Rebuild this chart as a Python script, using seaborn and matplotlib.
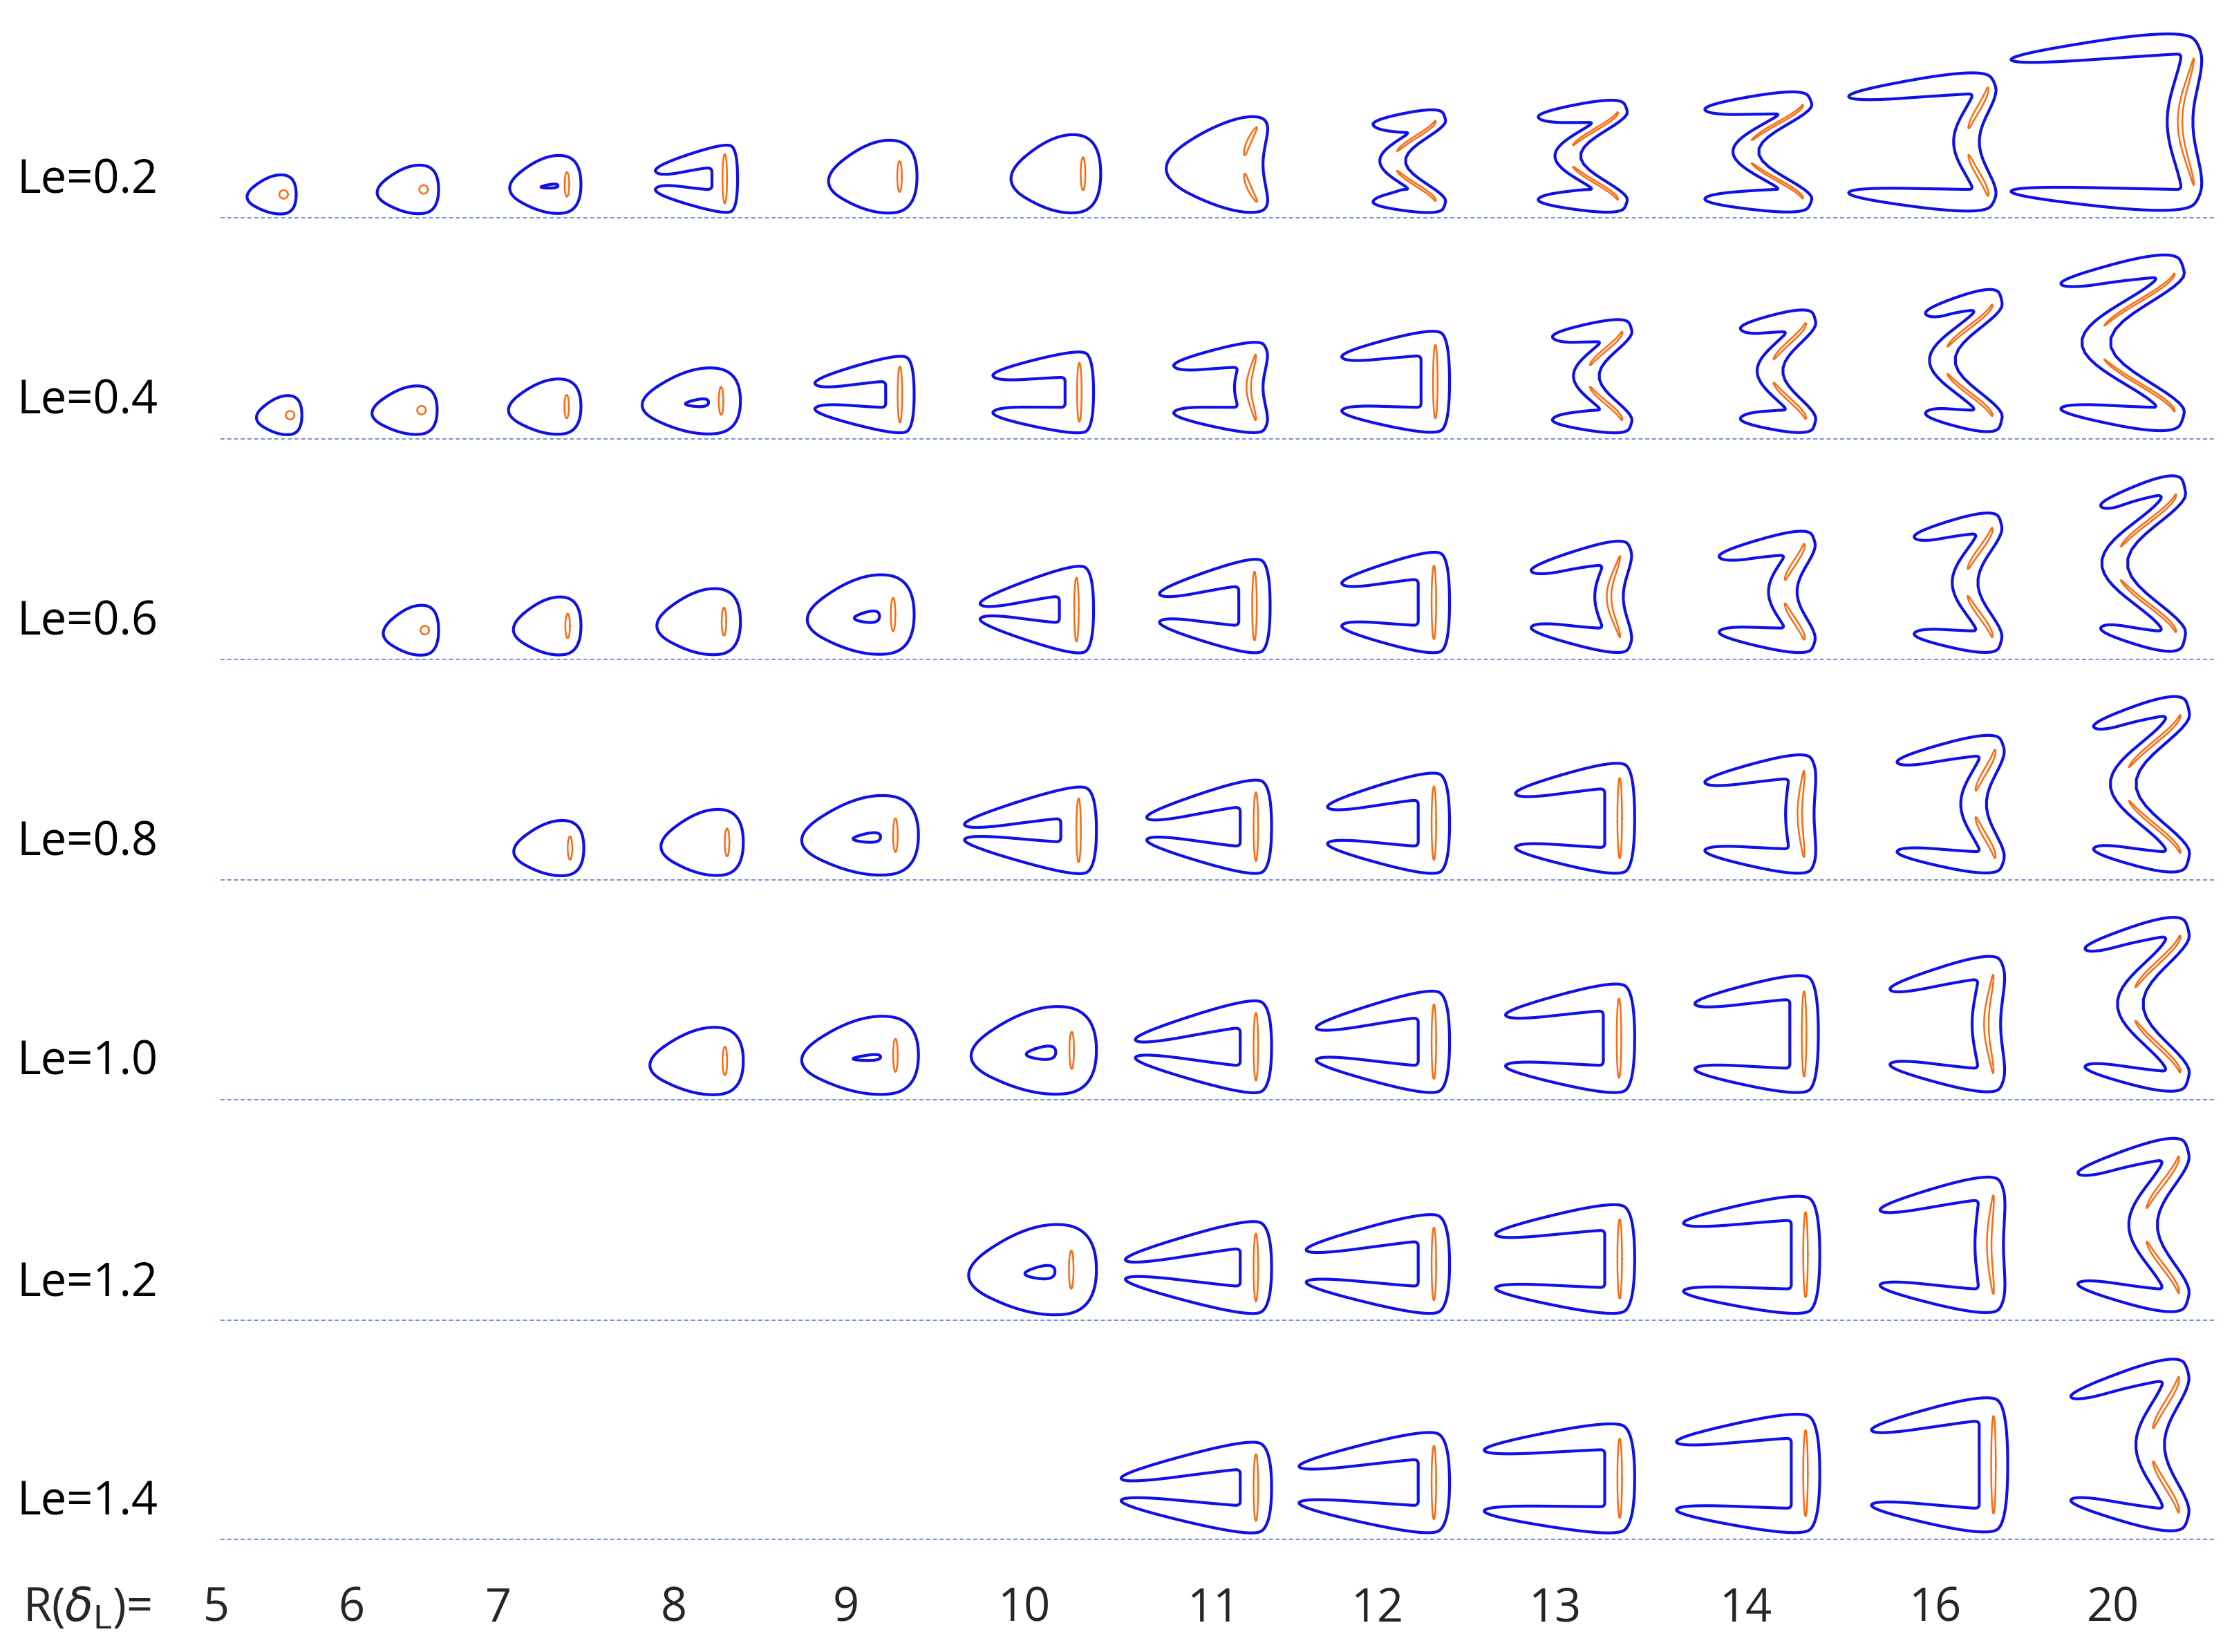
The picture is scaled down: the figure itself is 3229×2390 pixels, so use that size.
import numpy as np
import matplotlib
matplotlib.use("Agg")
import matplotlib.pyplot as plt
import seaborn as sns
import pandas as pd

sns.set_theme(style="white")
plt.rcParams['font.family'] = ['Open Sans', 'DejaVu Sans']
plt.rcParams['mathtext.fontset'] = 'dejavusans'

# ---------------- data ----------------
le_labels = ["Le=0.2", "Le=0.4", "Le=0.6", "Le=0.8", "Le=1.0", "Le=1.2", "Le=1.4"]
r_labels = ["5", "6", "7", "8", "9", "10", "11", "12", "13", "14", "16", "20"]
r_label_x = [152, 247, 350, 473, 594, 719, 852, 967, 1092, 1226, 1359, 1484]
row_base = [153, 308, 463, 618, 772, 927, 1081]

# per cell: (R index, left, right, top, arm, gap, wiggle)
# arm > 0: notched flame (arm thickness, left opening); arm == 0: closed flame (gap = inner hole size)
row0 = [(0,168,208,122,0,0,0),(1,258,308,115,0,0,0),(2,350,408,108,0,4,0),(3,458,518,100,18,5,0),
        (4,572,644,97,0,0,0),(5,700,773,93,0,0,0),(6,823,902,80,0,0,15),(7,962,1017,75,18,46,30),
        (8,1078,1145,68,18,50,35),(9,1195,1275,62,18,55,40),(10,1296,1405,48,18,60,15),(11,1410,1550,20,18,85,10)]
row1 = [(0,175,212,277,0,0,0),(1,254,307,270,0,0,0),(2,349,408,265,0,0,0),(3,440,520,257,0,8,0),
        (4,570,642,248,20,10,0),(5,695,768,245,20,18,0),(6,822,892,238,20,25,5),(7,940,1018,230,20,30,0),
        (8,1088,1148,222,18,50,25),(9,1220,1277,215,18,55,25),(10,1350,1408,200,18,62,35),(11,1445,1537,175,20,80,55)]
row2 = [(1,263,308,424,0,0,0),(2,353,408,418,0,0,0),(3,452,520,412,0,0,0),(4,555,642,402,0,12,0),
        (5,686,768,395,24,3,0),(6,812,892,390,22,12,0),(7,940,1018,385,22,22,0),(8,1073,1148,377,20,32,8),
        (9,1205,1277,370,20,45,15),(10,1342,1408,357,18,60,19),(11,1473,1537,330,18,78,43)]
row3 = [(2,353,410,575,0,0,0),(3,455,522,567,0,0,0),(4,550,645,557,0,10,0),(5,675,770,550,25,3,0),
        (6,803,893,545,22,8,0),(7,930,1018,540,22,18,0),(8,1062,1148,533,21,30,0),(9,1195,1277,527,20,40,3),
        (10,1330,1410,513,18,55,15),(11,1468,1540,485,18,78,40)]
row4 = [(3,446,522,720,0,0,0),(4,550,645,712,0,6,0),(5,668,770,705,0,14,0),(6,795,893,700,22,5,0),
        (7,922,1018,693,22,15,0),(8,1055,1148,688,22,28,0),(9,1188,1277,682,20,38,0),(10,1325,1410,668,20,45,5),
        (11,1462,1540,640,18,75,35)]
row5 = [(5,666,770,858,0,14,0),(6,788,893,855,22,6,0),(7,915,1018,850,22,15,0),(8,1048,1148,843,21,30,0),
        (9,1180,1278,837,20,40,0),(10,1318,1410,823,20,45,3),(11,1457,1540,795,20,70,25)]
row6 = [(6,785,893,1010,22,8,0),(7,910,1018,1003,22,18,0),(8,1040,1148,997,21,35,0),(9,1175,1278,990,20,40,0),
        (10,1312,1410,978,20,45,0),(11,1452,1540,950,20,65,20)]
rows = [row0, row1, row2, row3, row4, row5, row6]

# ---------------- helpers ----------------
def chaikin(pts, n=4):
    p = np.asarray(pts, float)
    for _ in range(n):
        q = np.roll(p, -1, axis=0)
        a = 0.75 * p + 0.25 * q
        b = 0.25 * p + 0.75 * q
        p = np.empty((2 * len(a), 2))
        p[0::2] = a
        p[1::2] = b
    return np.vstack([p, p[:1]])

def place(p, left, top, Wd, Hd, w, full=False):
    v = np.clip(p[:, 1] / Hd, 0, 1)
    u = np.clip(p[:, 0] / Wd, 0, 1)
    if full:
        wt = 1.0
        bump = np.sin(np.pi * v)
    else:
        z = np.clip((u - 0.15) / 0.45, 0, 1)
        wt = z * z * (3 - 2 * z)
        s = np.clip((v - 0.13) / 0.74, 0, 1)
        bump = np.sin(np.pi * s) ** 1.5
    x = left + p[:, 0] - w * bump * wt
    return x, top + p[:, 1]

# ---------------- drawing ----------------
W, H = 3230, 2390
fig = plt.figure(figsize=(W / 200, H / 200), dpi=200)
ax = fig.add_axes([0, 0, 1, 1])
ax.set_xlim(0, 1568)
ax.set_ylim(1160, 0)
ax.axis("off")
BLUE = "#1010e8"
ORANGE = "#ff6a10"
LW = 1.5

for lab, base, cells in zip(le_labels, row_base, rows):
    df = pd.DataFrame({"x": [155, 1555], "y": [base, base]})
    sns.lineplot(data=df, x="x", y="y", ax=ax, color="#6f8fd6", lw=0.7, ls=(0, (3, 2)))
    ax.text(12, base - 26, lab, fontsize=24, va="center", ha="left", color="black")
    for (ci, left, right, top, a, g, w) in cells:
        bottom = base - 2
        Hd = bottom - top
        Wd = right - left
        shapes = []
        if a > 0:
            vc = 0.52 * Hd
            tip = 7
            ir = Wd - a
            poly = [(0, vc - g / 2 - tip), (0.85 * Wd, 0), (Wd, 0.1 * Hd), (Wd, 0.9 * Hd),
                    (0.85 * Wd, Hd), (0, vc + g / 2 + tip), (5, vc + g / 2),
                    (ir - 6, Hd - a), (ir, Hd - a), (ir, Hd - a - 6),
                    (ir, a + 6), (ir, a), (ir - 6, a), (5, vc - g / 2)]
            shapes.append(chaikin(poly, 4))
            ox, ol = Wd - a / 2, 0.34 * Hd
        else:
            poly = [(0, 0.58 * Hd), (0.55 * Wd, 0), (Wd, 0.06 * Hd), (Wd, 0.94 * Hd), (0.55 * Wd, Hd)]
            shapes.append(chaikin(poly, 5))
            rt = 0.28 * Wd
            if g > 0:
                hole = [(0.45 * Wd, 0.55 * Hd), (Wd - rt, 0.52 * Hd - g / 2), (Wd - rt, 0.52 * Hd + g / 2)]
                shapes.append(chaikin(hole, 4))
            ox, ol = Wd - 0.17 * Wd, 0.2 * Hd
        full = a == 0
        for p in shapes:
            x, y = place(p, left, top, Wd, Hd, w, full)
            ax.plot(x, y, color=BLUE, lw=LW, solid_joinstyle="round")
        # orange reaction-rate contour(s)
        th = np.linspace(0, 2 * np.pi, 80)
        if Hd < 40:
            ax.plot(*place(np.c_[ox - 2 + 3 * np.cos(th), 0.5 * Hd + 3 * np.sin(th)], left, top, Wd, Hd, w, full),
                    color=ORANGE, lw=0.9)
            continue
        if w >= 15:
            segs = [(0.27 * Hd, 0.14 * Hd), (0.73 * Hd, 0.14 * Hd)]
        else:
            segs = [(0.5 * Hd, ol)]
        for yc, half in segs:
            p = np.c_[ox + 1.6 * np.cos(th), yc + half * np.sin(th)]
            ax.plot(*place(p, left, top, Wd, Hd, w, full), color=ORANGE, lw=0.9)

ax.text(16, 1130, r"R($\delta_{\rm L}$)=", fontsize=24, va="center", ha="left")
for x, lab in zip(r_label_x, r_labels):
    ax.text(x, 1130, lab, fontsize=24, va="center", ha="center")

fig.savefig("out.png", dpi=200, facecolor="white")
